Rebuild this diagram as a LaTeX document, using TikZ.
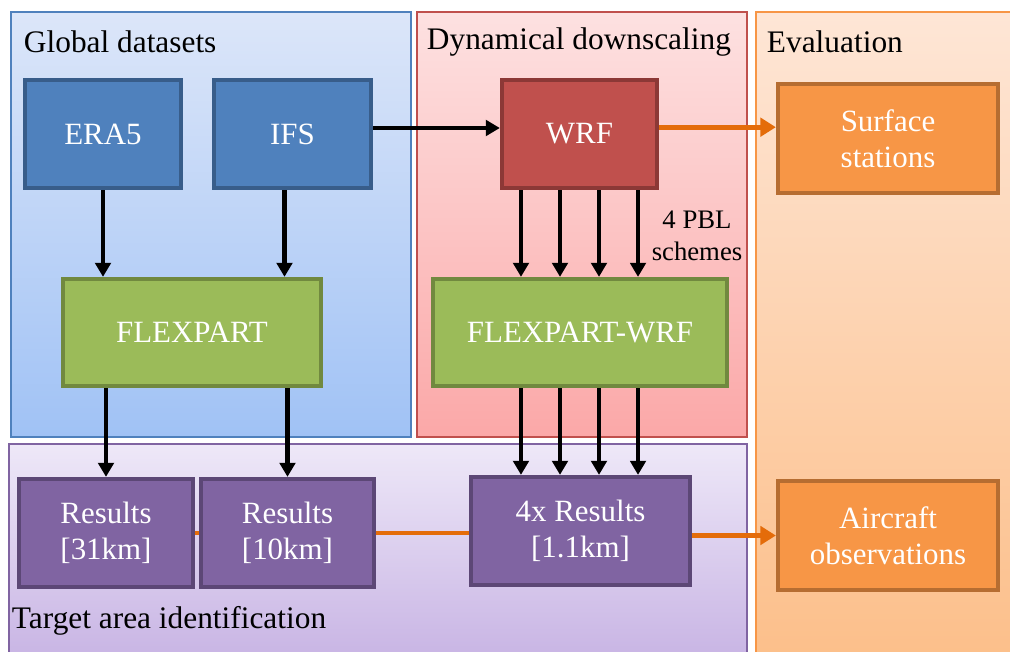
\documentclass[tikz,border=0pt]{standalone}
\usepackage{fontspec}
\setmainfont{Liberation Serif}
\usetikzlibrary{arrows.meta}

\definecolor{blueFill}{HTML}{4F81BD}
\definecolor{blueLine}{HTML}{385D8A}
\definecolor{redFill}{HTML}{C0504D}
\definecolor{redLine}{HTML}{8C3836}
\definecolor{greenFill}{HTML}{9BBB59}
\definecolor{greenLine}{HTML}{71893F}
\definecolor{purpleFill}{HTML}{8064A2}
\definecolor{purpleLine}{HTML}{5C4776}
\definecolor{orangeFill}{HTML}{F79646}
\definecolor{orangeLine}{HTML}{B66D31}
\definecolor{orangeArrow}{HTML}{E46C0A}

\begin{document}
\begin{tikzpicture}[x=0.025cm, y=-0.025cm,
    box/.style={draw, line width=3pt, text=white, align=center,
      minimum height=2.7cm, font=\fontsize{22}{25.5}\selectfont},
    title/.style={anchor=west, font=\fontsize{22.3}{26}\selectfont},
    flow/.style={line width=3pt, -{Triangle[length=10pt,width=11pt]}},
    orangeflow/.style={line width=3.5pt, draw=orangeArrow,
      -{Triangle[length=11pt,width=13pt]}}]
  \clip (0,0) rectangle (1010,651);
  \fill[white] (0,0) rectangle (1010,651);
  % panels
  \shade[top color={rgb,255:red,220;green,230;blue,249},
    bottom color={rgb,255:red,160;green,194;blue,245}]
    (11,12) rectangle (411,437);
  \draw[blueFill, line width=1pt] (11,12) rectangle (411,437);
  \shade[top color={rgb,255:red,253;green,225;blue,225},
    bottom color={rgb,255:red,251;green,168;blue,168}]
    (417,12) rectangle (747,437);
  \draw[redFill, line width=1pt] (417,12) rectangle (747,437);
  \shade[top color={rgb,255:red,254;green,230;blue,214},
    bottom color={rgb,255:red,252;green,191;blue,138}]
    (756,12) rectangle (1020,660);
  \draw[orangeFill, line width=1pt] (756,12) rectangle (1020,660);
  \shade[top color={rgb,255:red,238;green,232;blue,248},
    bottom color={rgb,255:red,200;green,180;blue,228}]
    (9,444) rectangle (747,660);
  \draw[purpleFill, line width=1pt] (9,444) rectangle (747,660);

  \node[title] (tglobal) at (19,42) {Global datasets};
  \node[title] (tdyn) at (422,42) {Dynamical downscaling};
  \node[title] (teval) at (762,42) {Evaluation};
  \node[title] (ttarget) at (7,621) {Target area identification};

  % boxes
  \node[box, fill=blueFill, draw=blueLine, minimum width=3.9cm] (era) at (103,134) {ERA5};
  \node[box, fill=blueFill, draw=blueLine, minimum width=3.925cm] (ifs) at (292.5,134) {IFS};
  \node[box, fill=redFill, draw=redLine, minimum width=3.875cm] (wrf) at (579.5,134) {WRF};
  \node[box, fill=orangeFill, draw=orangeLine, minimum width=5.5cm,
    minimum height=2.725cm] (surf) at (888,138.5) {Surface\\stations};
  \node[box, fill=greenFill, draw=greenLine, minimum width=6.45cm,
    minimum height=2.675cm] (flex) at (192,332.5) {FLEXPART};
  \node[box, fill=greenFill, draw=greenLine, minimum width=7.35cm,
    minimum height=2.675cm] (flexwrf) at (580,332.5) {FLEXPART-WRF};
  \node[box, fill=purpleFill, draw=purpleLine, minimum width=4.35cm] (r31) at (106,533) {Results\\{[31km]}};
  \node[box, fill=purpleFill, draw=purpleLine, minimum width=4.325cm] (r10) at (287.5,533) {Results\\{[10km]}};
  \node[box, fill=purpleFill, draw=purpleLine, minimum width=5.475cm] (r4x) at (580.5,531) {4x Results\\{[1.1km]}};
  \node[box, fill=orangeFill, draw=orangeLine, minimum width=5.5cm,
    minimum height=2.725cm] (air) at (888,535.5) {Aircraft\\observations};

  \node[align=center, font=\fontsize{19}{23}\selectfont] (pbl) at (697,236) {4 PBL\\schemes};

  % connectors
  \draw[flow] (era.south) -- (era.south |- flex.north);
  \draw[flow] ([xshift=-0.2cm]ifs.south) -- ([xshift=-0.2cm]ifs.south |- flex.north);
  \draw[flow] ([yshift=0.15cm]ifs.east) -- ([yshift=0.15cm]ifs.east -| wrf.west);
  \draw[orangeflow] ([yshift=0.17cm]wrf.east) -- ([yshift=0.17cm]wrf.east -| surf.west);
  \foreach \dx in {-1.5,-0.5,0.5,1.5} {
    \draw[flow] ([xshift=\dx*0.975cm]wrf.south) -- ([xshift=\dx*0.975cm]wrf.south |- flexwrf.north);
    \draw[flow] ([xshift=\dx*0.975cm]wrf.south |- flexwrf.south) -- ([xshift=\dx*0.975cm]wrf.south |- r4x.north);
  }
  \draw[flow] (r31.north |- flex.south) -- (r31.north);
  \draw[flow] (r10.north |- flex.south) -- (r10.north);
  \draw[line width=3.5pt, orangeArrow] (r31.east) -- (r10.west);
  \draw[line width=3.5pt, orangeArrow] (r10.east) -- (r10.east -| r4x.west);
  \draw[orangeflow] (air.west -| r4x.east) -- (air.west);
\end{tikzpicture}
\end{document}
